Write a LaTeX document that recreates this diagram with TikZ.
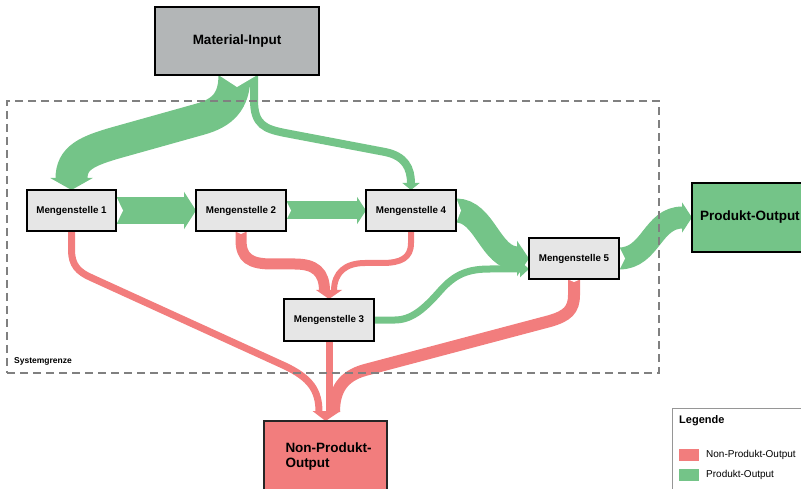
\documentclass[tikz,border=0pt]{standalone}
\usepackage{fontspec}
\setmainfont{Liberation Sans}
\usetikzlibrary{arrows.meta,calc}
\definecolor{flowgreen}{RGB}{116,196,136}
\definecolor{flowred}{RGB}{242,125,125}
\definecolor{inputgray}{RGB}{179,182,183}
\definecolor{stellegray}{RGB}{230,230,230}
\definecolor{dashgray}{RGB}{128,128,128}
\definecolor{leggray}{RGB}{150,150,150}
\pgfdeclarelayer{bg}
\pgfsetlayers{bg,main}
\begin{document}
\begin{tikzpicture}[x=1pt,y=-1pt,
  stelle/.style={draw=black, line width=2.5pt, fill=stellegray, minimum width=90pt, minimum height=41pt, inner sep=0pt, outer sep=0pt, font=\fontsize{9.8}{11}\selectfont\bfseries},
  bigbox/.style={draw=black, line width=2.5pt, inner sep=0pt, outer sep=0pt, font=\fontsize{13.5}{15}\selectfont\bfseries},
  gflow/.style={draw=flowgreen, line width=#1},
  rflow/.style={draw=flowred, line width=#1},
  notch/.style={fill=white, draw=none},
  rhead/.style={fill=flowred, draw=none},
  legtext/.style={anchor=west, inner sep=0pt, font=\fontsize{10}{12}\selectfont},
  swatch/.style={minimum width=20pt, minimum height=12pt, inner sep=0pt, outer sep=0pt, anchor=west},
]
\useasboundingbox (0,0) rectangle (801,489);

% boxes
\node[bigbox, fill=inputgray, minimum width=164pt, minimum height=68pt] (mi) at (237,41) {Material-Input};
\node[stelle, minimum width=89pt] (m1) at (71.5,210.5) {Mengenstelle 1};
\node[stelle] (m2) at (241,210.5) {Mengenstelle 2};
\node[stelle] (m4) at (411,210.5) {Mengenstelle 4};
\node[stelle] (m5) at (574,258.5) {Mengenstelle 5};
\node[stelle, minimum height=42pt] (m3) at (329,320) {Mengenstelle 3};
\node[bigbox, fill=flowgreen, minimum width=168pt, minimum height=69pt, text width=152pt, align=left] (po) at (776,217.5) {Produkt-Output};
\node[bigbox, draw=black!85, line width=2pt, fill=flowred, minimum width=123pt, minimum height=71pt, text width=80pt, align=left] (npo) at (325.5,456.5) {\mbox{Non-Produkt-}\\Output};

% system boundary
\node[draw=dashgray, line width=2.5pt, dash pattern=on 8pt off 5pt, minimum width=652pt, minimum height=272pt, inner sep=0pt, outer sep=0pt] (sys) at (333,237) {};
\node[anchor=west, inner sep=0pt, font=\fontsize{8.5}{10}\selectfont\bfseries] (sysl) at (14,361) {Systemgrenze};

% legend
\node[draw=leggray, line width=1pt, minimum width=160pt, minimum height=100pt, anchor=north west, inner sep=0pt, outer sep=0pt] (leg) at (672,408) {};
\node[anchor=west, inner sep=0pt, font=\fontsize{11}{13}\selectfont\bfseries] (legt) at (679,421) {Legende};
\node[swatch, fill=flowred] (swr) at (679,455) {};
\node[legtext] (legr) at (706,455) {Non-Produkt-Output};
\node[swatch, fill=flowgreen] (swg) at (679,475) {};
\node[legtext] (legg) at (706,475) {Produkt-Output};

\begin{pgfonlayer}{bg}
% green flows
\draw[gflow=32pt, -{Triangle[width=42pt,length=12pt]}] ([xshift=-2.5pt]mi.south) .. controls +(0,27) and (222,113) .. (200,119.2) -- (120,141.6) .. controls (86,151) and ($(m1.north)+(0,-32)$) .. (m1.north);
\draw[gflow=8pt, -{Triangle[width=17pt,length=7pt]}] ([xshift=17pt]mi.south) -- (254,100) .. controls (254,125) and (265,129) .. (285,133) -- (385,152) .. controls (405,156) and ($(m4.north)+(0,-22)$) .. (m4.north);
\draw[gflow=27pt, -{Triangle[width=37pt,length=12pt]}] (m1.east) -- (m2.west);
\draw[gflow=18pt, -{Triangle[width=27pt,length=9pt]}] (m2.east) -- (m4.west);
\draw[gflow=24pt, -{Triangle[width=35pt,length=12pt]}] (m4.east) .. controls +(29,0) and ($(m5.west)+(-39,0)$) .. (m5.west);
\draw[gflow=7pt, -{Triangle[width=16pt,length=9pt]}] (m3.east) -- (395,320) .. controls (412,320) and (425,308) .. (440,291) .. controls (455,274) and (468,269) .. (490,269) -- ([yshift=-10.5pt]m5.west);
\draw[gflow=22pt, -{Triangle[width=30pt,length=10pt]}] (m5.east) .. controls +(32,0) and ($(po.west)+(-40,0)$) .. (po.west);
% red flows
\draw[rflow=7pt] (m1.south) -- (71.5,250) .. controls (71.5,265) and (78,272) .. (92,278) -- (285,366) .. controls (310,378) and (319,390) .. ($(npo.north)+(-6.5,-9)$);
\draw[rflow=7pt] (m3.south) -- ($(npo.north)+(3.5,-9)$);
\draw[rflow=12pt] (m5.south) -- (574,295) .. controls (574,310) and (567,316) .. (550,321) -- (365,370) .. controls (343,376) and (334,390) .. ($(npo.north)+(8.5,-9)$);
\draw[rflow=11pt] (m2.south) -- (241,240) .. controls (241,258) and (250,264) .. (272,264) -- (295,264) .. controls (315,264) and (324.5,272) .. ($(m3.north)+(-4.5,-8)$);
\draw[rflow=6pt] (m4.south) -- (411,243) .. controls (411,258) and (401,263) .. (382,263) -- (365,263) .. controls (346,263) and (334,272) .. ($(m3.north)+(5,-8)$);
\fill[rhead] ($(npo.north)+(-13,-10)$) -- (npo.north) -- ($(npo.north)+(15,-10)$) -- cycle;
\fill[rhead] ($(m3.north)+(-13,-9)$) -- (m3.north) -- ($(m3.north)+(13,-9)$) -- cycle;
% tail notches
\fill[notch] (217,74) -- (237,87) -- (259,74) -- cycle;
\fill[notch] ($(m1.east)+(0,-14.5)$) -- ($(m1.east)+(7,0)$) -- ($(m1.east)+(0,14.5)$) -- cycle;
\fill[notch] ($(m2.east)+(0,-10)$) -- ($(m2.east)+(5,0)$) -- ($(m2.east)+(0,10)$) -- cycle;
\fill[notch] ($(m4.east)+(0,-13)$) -- ($(m4.east)+(5,0)$) -- ($(m4.east)+(0,13)$) -- cycle;
\fill[notch] ($(m5.east)+(0,-12)$) -- ($(m5.east)+(6,0)$) -- ($(m5.east)+(0,12)$) -- cycle;
\fill[notch] ($(m2.south)+(-6.5,0)$) -- ($(m2.south)+(0,3)$) -- ($(m2.south)+(6.5,0)$) -- cycle;
\fill[notch] ($(m5.south)+(-7,0)$) -- ($(m5.south)+(0,3)$) -- ($(m5.south)+(7,0)$) -- cycle;
\end{pgfonlayer}
\end{tikzpicture}
\end{document}
